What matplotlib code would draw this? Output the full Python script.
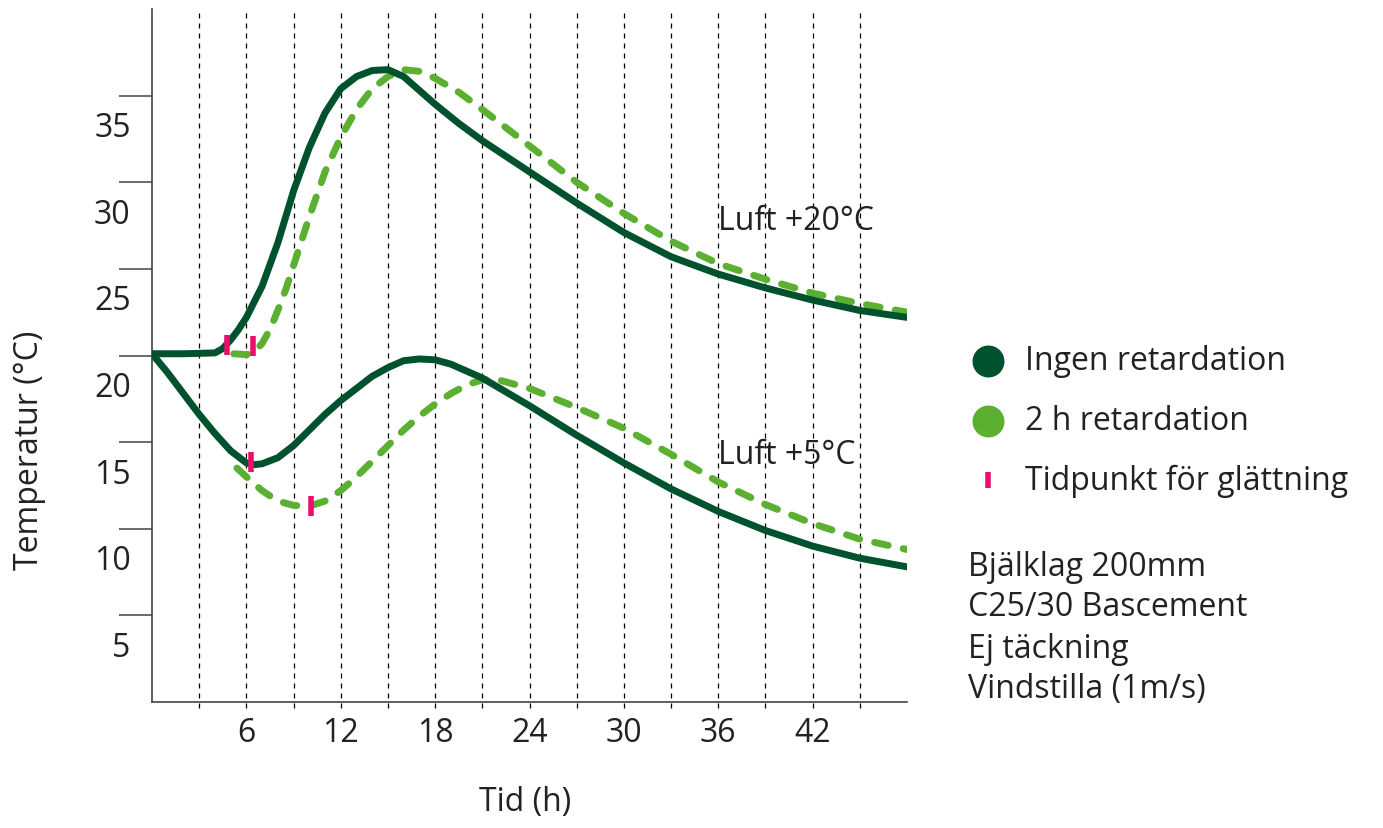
"""
Betongtemperatur i bjälklag, med och utan retardation
"""

import matplotlib
matplotlib.use("Agg")
import matplotlib.pyplot as plt
import matplotlib.transforms as mtransforms

# Luft +20°C, ingen retardation
t20_ingen = [0, 2, 4, 4.5, 5, 5.5, 6, 7, 8, 9, 10, 11, 12, 13, 14, 15, 16, 17,
             18, 19.5, 21, 24, 27, 30, 33, 36, 39, 42, 45, 48]
v20_ingen = [20.1, 20.1, 20.15, 20.4, 20.9, 21.5, 22.2, 24.0, 26.5, 29.5, 32.0,
             34.0, 35.4, 36.1, 36.45, 36.5, 36.1, 35.3, 34.5, 33.4, 32.4, 30.6,
             28.8, 27.1, 25.7, 24.7, 23.9, 23.2, 22.6, 22.2]

# Luft +20°C, 2 h retardation
t20_ret = [5.2, 6, 6.5, 7, 7.5, 8, 8.5, 9, 10, 11, 12, 13, 14, 15, 16, 17, 18,
           19.5, 21, 24, 27, 30, 33, 36, 39, 42, 45, 48]
v20_ret = [20.1, 20.05, 20.2, 20.7, 21.5, 22.6, 23.8, 25.2, 28.0, 30.6, 32.6,
           34.2, 35.4, 36.1, 36.5, 36.4, 36.0, 35.2, 34.2, 32.1, 30.0, 28.2,
           26.6, 25.3, 24.4, 23.6, 23.0, 22.5]

# Luft +5°C, ingen retardation
t5_ingen = [0, 1, 2, 3, 4, 5, 6, 6.5, 7, 8, 9, 10, 11, 12, 13, 14, 15, 16, 17,
            18, 19, 21, 24, 27, 30, 33, 36, 39, 42, 45, 48]
v5_ingen = [20.1, 19.0, 17.8, 16.6, 15.5, 14.5, 13.8, 13.7, 13.75, 14.1, 14.8,
            15.7, 16.6, 17.4, 18.1, 18.8, 19.3, 19.7, 19.8, 19.75, 19.5, 18.7,
            17.1, 15.4, 13.8, 12.3, 11.0, 9.9, 9.0, 8.3, 7.8]

# Luft +5°C, 2 h retardation
t5_ret = [5.4, 6, 7, 8, 9, 10, 11, 12, 13, 14, 15, 16, 17, 18, 19, 20, 21, 22,
          24, 27, 30, 33, 36, 39, 42, 45, 48]
v5_ret = [13.5, 13.0, 12.2, 11.6, 11.35, 11.3, 11.6, 12.2, 13.0, 13.9, 14.8,
          15.7, 16.5, 17.2, 17.8, 18.3, 18.6, 18.6, 18.1, 17.0, 15.8, 14.3,
          12.7, 11.4, 10.3, 9.4, 8.8]

# Tidpunkt för glättning
glatt_t = [4.75, 6.45, 6.3, 10.1]
glatt_v = [20.6, 20.55, 13.85, 11.3]

x_ticks = [6, 12, 18, 24, 30, 36, 42]
y_ticks = [5, 10, 15, 20, 25, 30, 35]
grid_x = [3, 6, 9, 12, 15, 18, 21, 24, 27, 30, 33, 36, 39, 42, 45]

legend_labels = ["Ingen retardation", "2 h retardation", "Tidpunkt för glättning"]
info_lines = ["Bjälklag 200mm", "C25/30 Bascement", "Ej täckning", "Vindstilla (1m/s)"]

DARK = "#00512e"
LIGHT = "#5bb031"
PINK = "#e8106a"
TXT = "#222222"
FS = 23

plt.rcParams["font.family"] = ["Open Sans", "DejaVu Sans"]

W, H = 1383, 829
fig = plt.figure(figsize=(W / 100, H / 100), dpi=100)
ax = fig.add_axes([152 / W, 126 / H, 755 / W, 693 / H])
ax.set_xlim(0, 48)
ax.set_ylim(0, 40)

for x in grid_x:
    ax.plot([x, x], [-0.35, 40], color="black", lw=0.9, ls=(0, (4, 4)),
            clip_on=False, zorder=1)

lw = 5
ax.plot(t20_ingen, v20_ingen, color=DARK, lw=lw, solid_capstyle="round",
        solid_joinstyle="round", zorder=3)
ax.plot(t5_ingen, v5_ingen, color=DARK, lw=lw, solid_capstyle="round",
        solid_joinstyle="round", zorder=3)
ax.plot(t20_ret, v20_ret, color=LIGHT, lw=lw, dashes=(2.0, 2.2),
        dash_capstyle="round", zorder=2)
ax.plot(t5_ret, v5_ret, color=LIGHT, lw=lw, dashes=(2.0, 2.2),
        dash_capstyle="round", zorder=2)
ax.plot(glatt_t, glatt_v, ls="none", marker="|", color=PINK, ms=14, mew=4,
        zorder=4)

ax.text(36, 27.8, "Luft +20°C", fontsize=FS, color=TXT, va="center")
ax.text(36, 14.3, "Luft +5°C", fontsize=FS, color=TXT, va="center")

for s in ["top", "right"]:
    ax.spines[s].set_visible(False)
for s in ["left", "bottom"]:
    ax.spines[s].set_color("#444444")
    ax.spines[s].set_linewidth(1.2)

ax.set_xticks(x_ticks)
ax.set_xticklabels([str(v) for v in x_ticks])
ax.tick_params(axis="x", length=0, pad=10, labelsize=FS, labelcolor=TXT)
ax.set_yticks(y_ticks)
ax.set_yticklabels([str(v) for v in y_ticks])
ax.tick_params(axis="y", length=24, width=1.1, color="#444444", pad=0,
               labelsize=FS, labelcolor=TXT)
shift = mtransforms.ScaledTranslation(12 / 100, -28 / 100, fig.dpi_scale_trans)
for lab in ax.get_yticklabels():
    lab.set_transform(lab.get_transform() + shift)

fig.text(30 / W, 1 - 450 / H, "Temperatur (°C)", rotation=90, fontsize=FS,
         color=TXT, ha="center", va="center")
fig.text(525 / W, 1 - 803 / H, "Tid (h)", fontsize=FS, color=TXT,
         ha="center", va="center")

# legend
leg_y = [362, 422, 481]
ax.plot([988 / W], [1 - leg_y[0] / H], "o", color=DARK, ms=22,
        transform=fig.transFigure, clip_on=False)
ax.plot([988 / W], [1 - leg_y[1] / H], "o", color=LIGHT, ms=22,
        transform=fig.transFigure, clip_on=False)
ax.plot([988 / W], [1 - leg_y[2] / H], "|", color=PINK, ms=12, mew=4,
        transform=fig.transFigure, clip_on=False)
for y, lab in zip(leg_y, legend_labels):
    fig.text(1025 / W, 1 - y / H, lab, fontsize=FS, color=TXT, va="center")

info_y = [568, 608, 650, 690]
for y, lab in zip(info_y, info_lines):
    fig.text(968 / W, 1 - y / H, lab, fontsize=FS, color=TXT, va="center")

fig.savefig("out.png", dpi=100)
